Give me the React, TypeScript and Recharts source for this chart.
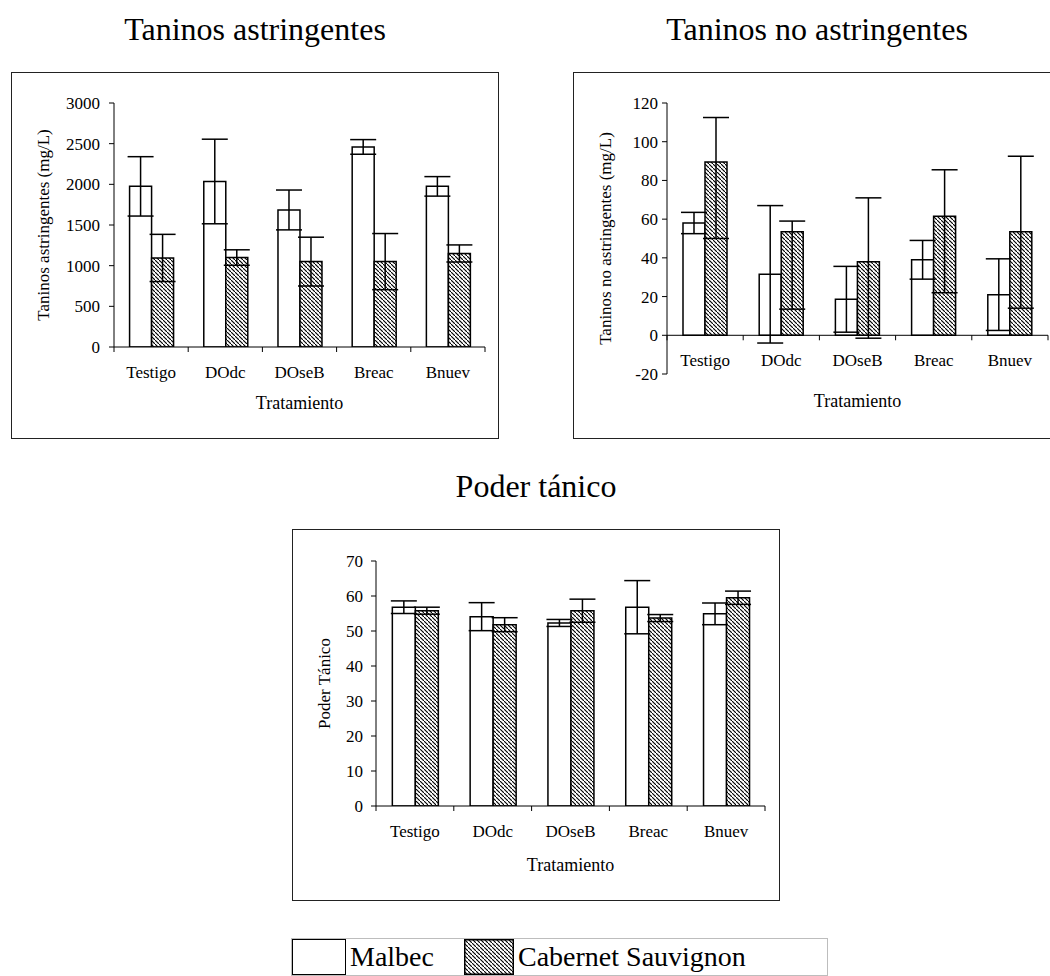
import React from "react"
import { BarChart, Bar, XAxis, YAxis, ErrorBar, ReferenceLine } from "recharts"

const categories = ["Testigo", "DOdc", "DOseB", "Breac", "Bnuev"]

// Taninos astringentes (mg/L)
const astMalbec = [1975, 2035, 1685, 2460, 1975]
const astMalbecErr = [365, 520, 245, 90, 120]
const astCabernet = [1095, 1100, 1050, 1050, 1150]
const astCabernetErr = [290, 95, 300, 345, 105]

// Taninos no astringentes (mg/L)
const noAstMalbec = [58, 31.5, 18.6, 39, 21]
const noAstMalbecErr = [5.5, 35.5, 17, 10, 18.5]
const noAstCabernet = [89.5, 53.5, 38, 61.5, 53.5]
const noAstCabernetErr = [
  [39.5, 23],
  [40, 5.5],
  [39.5, 33],
  [39.5, 24],
  [39.5, 39],
]

// Poder tánico
const poderMalbec = [56.8, 54.1, 52.3, 56.8, 54.9]
const poderMalbecErr = [1.8, 4, 1, 7.6, 3.1]
const poderCabernet = [55.8, 51.8, 55.8, 53.7, 59.5]
const poderCabernetErr = [1, 2, 3.3, 1, 1.9]

const astTicks = [0, 500, 1000, 1500, 2000, 2500, 3000]
const noAstTicks = [-20, 0, 20, 40, 60, 80, 100, 120]
const poderTicks = [0, 10, 20, 30, 40, 50, 60, 70]

const FONT = "'Times New Roman', 'Liberation Serif', serif"

const buildRows = (m: number[], mErr: any[], c: number[], cErr: any[]) =>
  categories.map((name, i) => ({
    name,
    malbec: m[i],
    malbecErr: mErr[i],
    cabernet: c[i],
    cabernetErr: cErr[i],
  }))

const HatchDefs = ({ id }: { id: string }) => (
  <defs>
    <pattern id={id} width={4} height={4} patternUnits="userSpaceOnUse">
      <rect width={4} height={4} fill="#fff" />
      <path d="M-1,-1 l2,2 M0,0 l4,4 M3,3 l2,2" stroke="#000" strokeWidth={1.1} />
    </pattern>
  </defs>
)

const CatTick = (props: any) => {
  const { x, y, payload, index, lift = 0, band = 0 } = props
  const ay = y - lift
  const off = payload && payload.offset ? payload.offset : band / 2
  return (
    <g>
      <line x1={x - off} x2={x - off} y1={ay} y2={ay + 5} stroke="#000" />
      {index === categories.length - 1 && (
        <line x1={x + off} x2={x + off} y1={ay} y2={ay + 5} stroke="#000" />
      )}
      <text
        x={x}
        y={ay + 31}
        textAnchor="middle"
        fontSize={17}
        fontFamily={FONT}
        fill="#000"
      >
        {payload.value}
      </text>
    </g>
  )
}

interface PanelProps {
  left: number
  top: number
  width: number
  height: number
  title: string
  titleGap: number
  yLabel: string
  rows: any[]
  domain: [number, number]
  ticks: number[]
  yAxisWidth: number
  xAxisHeight: number
  plotTop: number
  plotRight: number
  tickMargin: number
  xLabelOffset: number
  hatchId: string
  zeroAxis?: boolean
}

function Panel(p: PanelProps) {
  const plotH = p.height - p.plotTop - p.xAxisHeight
  const plotW = p.width - p.yAxisWidth - p.plotRight
  const lift = p.zeroAxis
    ? (plotH * (0 - p.domain[0])) / (p.domain[1] - p.domain[0])
    : 0
  const labelStyle = { fontSize: 17, fontFamily: FONT, fill: "#000" }
  return (
    <>
      <div
        style={{
          position: "absolute",
          left: p.left,
          top: p.top - p.titleGap,
          width: p.width,
          textAlign: "center",
          fontFamily: FONT,
          fontSize: 32,
          lineHeight: "32px",
          color: "#000",
          whiteSpace: "nowrap",
        }}
      >
        {p.title}
      </div>
      <div
        style={{
          position: "absolute",
          left: p.left,
          top: p.top,
          width: p.width,
          height: p.height,
          boxSizing: "border-box",
          border: "1.5px solid #222",
        }}
      />
      <div style={{ position: "absolute", left: p.left, top: p.top }}>
        <BarChart
          width={p.width}
          height={p.height}
          data={p.rows}
          margin={{ top: p.plotTop, right: p.plotRight, left: 0, bottom: 0 }}
          barCategoryGap="21%"
          barGap={0}
        >
          <HatchDefs id={p.hatchId} />
          <XAxis
            dataKey="name"
            height={p.xAxisHeight}
            axisLine={p.zeroAxis ? false : { stroke: "#000" }}
            tickLine={false}
            tickSize={0}
            tickMargin={0}
            interval={0}
            tick={<CatTick lift={lift} band={plotW / categories.length} />}
            label={{
              value: "Tratamiento",
              position: "insideBottom",
              offset: p.xLabelOffset,
              style: { fontSize: 18, fontFamily: FONT, fill: "#000" },
            }}
          />
          <YAxis
            width={p.yAxisWidth}
            domain={p.domain}
            ticks={p.ticks}
            interval={0}
            allowDataOverflow
            axisLine={{ stroke: "#000" }}
            tickLine={{ stroke: "#000" }}
            tickSize={5}
            tickMargin={p.tickMargin}
            tick={labelStyle}
            label={{
              value: p.yLabel,
              angle: -90,
              position: "insideLeft",
              offset: 32,
              style: { ...labelStyle, textAnchor: "middle", whiteSpace: "pre" },
            }}
          />
          <Bar
            dataKey="malbec"
            fill="#fff"
            stroke="#000"
            strokeWidth={1.5}
            isAnimationActive={false}
          >
            <ErrorBar
              dataKey="malbecErr"
              width={13}
              stroke="#000"
              strokeWidth={1.5}
              direction="y"
              isAnimationActive={false}
            />
          </Bar>
          <Bar
            dataKey="cabernet"
            fill={`url(#${p.hatchId})`}
            stroke="#000"
            strokeWidth={1.5}
            isAnimationActive={false}
          >
            <ErrorBar
              dataKey="cabernetErr"
              width={13}
              stroke="#000"
              strokeWidth={1.5}
              direction="y"
              isAnimationActive={false}
            />
          </Bar>
          {p.zeroAxis && <ReferenceLine y={0} stroke="#000" strokeWidth={1} />}
        </BarChart>
      </div>
    </>
  )
}

function Legend() {
  const cell: React.CSSProperties = {
    fontFamily: FONT,
    fontSize: 28,
    lineHeight: "36px",
    color: "#000",
    paddingLeft: 4,
    boxSizing: "border-box",
    whiteSpace: "nowrap",
  }
  return (
    <div
      style={{
        position: "absolute",
        left: 291,
        top: 938,
        width: 537,
        height: 38,
        boxSizing: "border-box",
        border: "1px solid #bdbdbd",
        display: "flex",
      }}
    >
      <div
        style={{
          width: 54,
          height: 36,
          boxSizing: "border-box",
          border: "1.5px solid #000",
          background: "#fff",
        }}
      />
      <div style={{ ...cell, width: 118 }}>Malbec</div>
      <svg width={50} height={36} style={{ display: "block" }}>
        <HatchDefs id="hatch-legend" />
        <rect
          x={0.75}
          y={0.75}
          width={48.5}
          height={34.5}
          fill="url(#hatch-legend)"
          stroke="#000"
          strokeWidth={1.5}
        />
      </svg>
      <div style={{ ...cell, flex: 1 }}>Cabernet Sauvignon</div>
    </div>
  )
}

export default function App() {
  return (
    <div
      style={{
        position: "absolute",
        left: 0,
        top: 0,
        width: 1050,
        height: 976,
        overflow: "hidden",
        background: "#fff",
      }}
    >
      <Panel
        left={11}
        top={72}
        width={488}
        height={367}
        title="Taninos astringentes"
        titleGap={59}
        yLabel="Taninos astringentes (mg/L)"
        rows={buildRows(astMalbec, astMalbecErr, astCabernet, astCabernetErr)}
        domain={[0, 3000]}
        ticks={astTicks}
        yAxisWidth={103}
        xAxisHeight={92}
        plotTop={31}
        plotRight={14}
        tickMargin={9}
        xLabelOffset={30}
        hatchId="hatch-a"
      />
      <Panel
        left={573}
        top={72}
        width={488}
        height={367}
        title="Taninos no astringentes"
        titleGap={59}
        yLabel="Taninos no  astringentes (mg/L)"
        rows={buildRows(noAstMalbec, noAstMalbecErr, noAstCabernet, noAstCabernetErr)}
        domain={[-20, 120]}
        ticks={noAstTicks}
        yAxisWidth={94}
        xAxisHeight={65}
        plotTop={31}
        plotRight={13}
        tickMargin={4}
        xLabelOffset={32}
        hatchId="hatch-b"
        zeroAxis
      />
      <Panel
        left={292}
        top={529}
        width={488}
        height={372}
        title="Poder tánico"
        titleGap={59}
        yLabel="Poder Tánico"
        rows={buildRows(poderMalbec, poderMalbecErr, poderCabernet, poderCabernetErr)}
        domain={[0, 70]}
        ticks={poderTicks}
        yAxisWidth={84}
        xAxisHeight={95}
        plotTop={32}
        plotRight={15}
        tickMargin={8}
        xLabelOffset={30}
        hatchId="hatch-c"
      />
      <Legend />
    </div>
  )
}
